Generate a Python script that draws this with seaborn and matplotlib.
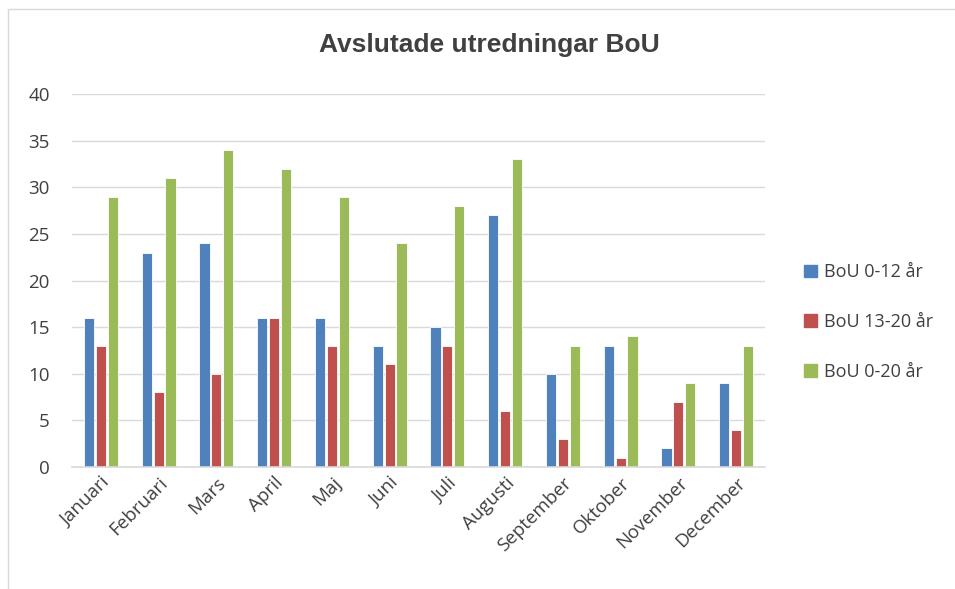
import numpy as np
import matplotlib.pyplot as plt
import matplotlib.patches as mpatches
import pandas as pd
import seaborn as sb

manader = ["Januari", "Februari", "Mars", "April", "Maj", "Juni", "Juli",
           "Augusti", "September", "Oktober", "November", "December"]
bou_0_12 = [16, 23, 24, 16, 16, 13, 15, 27, 10, 13, 2, 9]
bou_13_20 = [13, 8, 10, 16, 13, 11, 13, 6, 3, 1, 7, 4]
bou_0_20 = [29, 31, 34, 32, 29, 24, 28, 33, 13, 14, 9, 13]
serier = ["BoU 0-12 år", "BoU 13-20 år", "BoU 0-20 år"]
farger = ["#4F81BD", "#C0504D", "#9BBB59"]

# långt format för seaborn
data = pd.DataFrame({
    "manad": manader * 3,
    "antal": bou_0_12 + bou_13_20 + bou_0_20,
    "serie": [serier[0]] * 12 + [serier[1]] * 12 + [serier[2]] * 12,
})

sb.set_style("white")
plt.rcParams["font.family"] = ["Open Sans", "DejaVu Sans"]

fig = plt.figure(figsize=(9.55, 5.89), dpi=100)
ax = fig.add_axes([72 / 955, 1 - 467 / 589, (765 - 72) / 955, (467 - 94) / 589])

sb.barplot(data=data, x="manad", y="antal", hue="serie", order=manader,
           hue_order=serier, palette=farger, width=0.62, gap=0.15,
           edgecolor="white", linewidth=0.6, saturation=1, legend=False, ax=ax)

ax.set_ylim(0, 40)
ax.set_xlim(-0.5, 11.5)
ax.set_yticks(range(0, 41, 5))
ax.yaxis.grid(True, color="#d9d9d9", linewidth=1)
ax.set_axisbelow(True)
for s in ["top", "right", "left"]:
    ax.spines[s].set_visible(False)
ax.spines["bottom"].set_color("#d9d9d9")
ax.spines["bottom"].set_linewidth(1.2)
ax.tick_params(axis="both", length=0, labelsize=13.5, colors="#404040")
ax.tick_params(axis="y", pad=16)
ax.tick_params(axis="x", pad=5)
ax.set_xlabel("")
ax.set_ylabel("")
plt.setp(ax.get_xticklabels(), rotation=45, ha="right", rotation_mode="anchor")

fig.text(489 / 955, 1 - 45 / 589, "Avslutade utredningar BoU", ha="center",
         va="center", fontsize=19, fontweight="bold", color="#404040",
         family="Liberation Sans")

handles = [mpatches.Patch(color=c, label=l) for c, l in zip(farger, serier)]
fig.legend(handles=handles, loc="center left", bbox_to_anchor=(788 / 955, 1 - 322 / 589),
           frameon=False, fontsize=13, handlelength=0.7, handleheight=0.7,
           handletextpad=0.4, labelspacing=1.75, labelcolor="#404040")

# ram runt diagrammet
fig.patches.append(mpatches.Rectangle((8 / 955, -0.1), 1.2, 1 - 9 / 589 + 0.1,
                                      transform=fig.transFigure, fill=False,
                                      edgecolor="#d9d9d9", linewidth=1))

plt.savefig("out.png", dpi=100)
